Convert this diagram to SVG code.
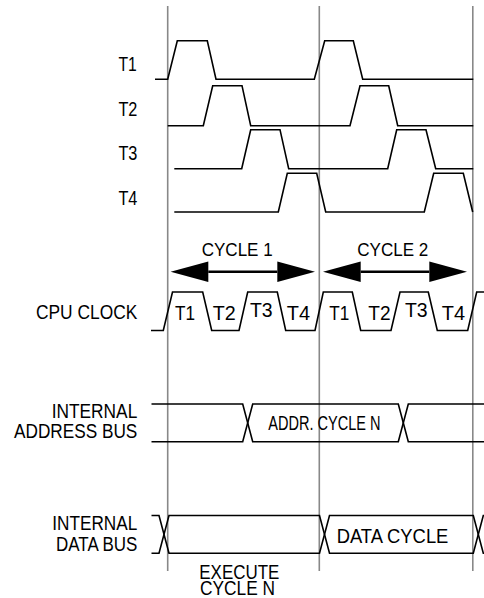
<svg xmlns="http://www.w3.org/2000/svg" width="484" height="598" viewBox="0 0 484 598">
<style>
.wave{fill:none;stroke:#000;stroke-width:1.6;stroke-linejoin:miter}
.grid{stroke:#888;stroke-width:1.6}
.lbl{font-family:"Liberation Sans",Arial,sans-serif;font-size:20px;fill:#000}
.big{font-family:"Liberation Sans",Arial,sans-serif;font-size:20.5px;fill:#000}
.cyc{font-family:"Liberation Sans",Arial,sans-serif;font-size:18px;fill:#000}
.arr{stroke:#000;stroke-width:2.6;fill:none}
</style>
<defs>
<marker id="head" viewBox="0 -11 38 22" refX="0" refY="0" markerWidth="38" markerHeight="22" markerUnits="userSpaceOnUse" orient="auto-start-reverse" overflow="visible">
<path d="M0,-10.3 L37.7,0 L0,10.3 Z" fill="#000"/>
</marker>
</defs>
<rect width="484" height="598" fill="#fff"/>
<g id="cycle-boundaries">
<line class="grid" x1="167.7" y1="6" x2="167.7" y2="571"/>
<line class="grid" x1="319.3" y1="6" x2="319.3" y2="571"/>
<line class="grid" x1="472.8" y1="6" x2="472.8" y2="571"/>
</g>
<g id="T1">
<text class="lbl" x="118.4" y="70.7" textLength="18.3" lengthAdjust="spacingAndGlyphs">T1</text>
<path class="wave" d="M155,79.3 H167.7 L177.3,40.7 H207.3 L216,79.3 H314.3 L324.7,40.7 H353.3 L362.7,79.3 H473.3"/>
</g>
<g id="T2">
<text class="lbl" x="118.4" y="116" textLength="19" lengthAdjust="spacingAndGlyphs">T2</text>
<path class="wave" d="M167.7,125.7 H203.3 L212.7,85.7 H242 L250.7,125.7 H350 L360,85.7 H388.7 L397.7,125.7 H473.3"/>
</g>
<g id="T3">
<text class="lbl" x="118.4" y="160" textLength="19" lengthAdjust="spacingAndGlyphs">T3</text>
<path class="wave" d="M174.3,168.7 H241.7 L250.7,129.7 H280 L288.7,168.7 H387.7 L396.7,129.7 H426 L435.7,168.7 H473.3"/>
</g>
<g id="T4">
<text class="lbl" x="118.4" y="205" textLength="19" lengthAdjust="spacingAndGlyphs">T4</text>
<path class="wave" d="M174.3,212 H278.3 L287.3,173.3 H316.7 L325.7,212 H424.3 L433.7,173.3 H463.3 L472.7,212"/>
</g>
<g id="cycle1">
<text class="cyc" x="201.7" y="256" textLength="71" lengthAdjust="spacingAndGlyphs">CYCLE 1</text>
</g>
<g id="cycle2">
<text class="cyc" x="357.3" y="256" textLength="71" lengthAdjust="spacingAndGlyphs">CYCLE 2</text>
</g>
<g id="connectors">
<path class="arr" d="M208.3,271.7 H277.3" marker-start="url(#head)" marker-end="url(#head)"/>
<path class="arr" d="M360.7,271.7 H429.3" marker-start="url(#head)" marker-end="url(#head)"/>
</g>
<g id="cpu-clock">
<text class="lbl" x="36" y="319.3" textLength="101.3" lengthAdjust="spacingAndGlyphs">CPU CLOCK</text>
<path class="wave" d="M151,330.5 H163.3 L172.5,292 H202.7 L211.7,330.5 H239 L247.7,292 H277.3 L285.7,330.5 H315 L323.3,292 H352.3 L360.7,330.5 H391 L400,292 H428.3 L437.3,330.5 H467.7 L476.7,292 H484"/>
<text class="big" x="175" y="320" textLength="20" lengthAdjust="spacingAndGlyphs">T1</text>
<text class="big" x="212.7" y="320" textLength="23" lengthAdjust="spacingAndGlyphs">T2</text>
<text class="big" x="250" y="317.3" textLength="22.7" lengthAdjust="spacingAndGlyphs">T3</text>
<text class="big" x="286.7" y="320" textLength="23.3" lengthAdjust="spacingAndGlyphs">T4</text>
<text class="big" x="329.3" y="320" textLength="20" lengthAdjust="spacingAndGlyphs">T1</text>
<text class="big" x="368.3" y="320" textLength="22.3" lengthAdjust="spacingAndGlyphs">T2</text>
<text class="big" x="405" y="317.3" textLength="22.7" lengthAdjust="spacingAndGlyphs">T3</text>
<text class="big" x="441.7" y="320" textLength="23.3" lengthAdjust="spacingAndGlyphs">T4</text>
</g>
<g id="address-bus">
<text class="lbl" x="51.7" y="418.3" textLength="85.6" lengthAdjust="spacingAndGlyphs">INTERNAL</text>
<text class="lbl" x="14" y="438.3" textLength="123.3" lengthAdjust="spacingAndGlyphs">ADDRESS BUS</text>
<path class="wave" d="M151.5,404 H242.7 L252.7,441.7 H398.3 L408.3,404 H484"/>
<path class="wave" d="M151.5,441.7 H242.7 L252.7,404 H398.3 L408.3,441.7 H484"/>
<text class="lbl" x="268.3" y="430" textLength="112.3" lengthAdjust="spacingAndGlyphs">ADDR. CYCLE N</text>
</g>
<g id="data-bus">
<text class="lbl" x="52.3" y="530" textLength="85" lengthAdjust="spacingAndGlyphs">INTERNAL</text>
<text class="lbl" x="56" y="550.7" textLength="81.3" lengthAdjust="spacingAndGlyphs">DATA BUS</text>
<path class="wave" d="M151.5,515.5 H159 L169,553.3 H319.5 L329.5,515.5 H473.3 L483.3,553.3 H484"/>
<path class="wave" d="M151.5,553.3 H159 L169,515.5 H319.5 L329.5,553.3 H473.3 L483.3,515.5 H484"/>
<text class="lbl" x="336.7" y="543.3" textLength="111.7" lengthAdjust="spacingAndGlyphs">DATA CYCLE</text>
</g>
<g id="execute">
<text class="lbl" x="199.3" y="578.5" textLength="80" lengthAdjust="spacingAndGlyphs">EXECUTE</text>
<text class="lbl" x="200" y="595" textLength="75" lengthAdjust="spacingAndGlyphs">CYCLE N</text>
</g>
</svg>
